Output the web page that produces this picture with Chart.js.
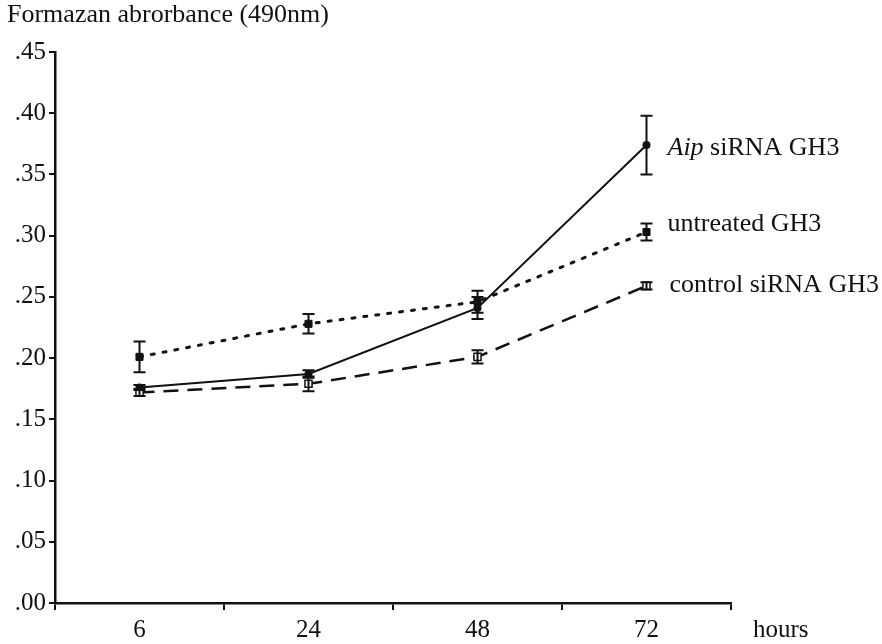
<!DOCTYPE html>
<html>
<head>
<meta charset="utf-8">
<script src="https://cdn.jsdelivr.net/npm/chart.js@4.4.1/dist/chart.umd.min.js"></script>
<style>
  html, body { margin: 0; padding: 0; background: #fff; }
  #wrap { width: 882px; height: 644px; position: relative; }
</style>
</head>
<body>
<div id="wrap"><canvas id="chart"></canvas></div>
<script>
/* 数値は図から読み取り */
const hours = ['6', '24', '48', '72'];

const aipMean = [0.176, 0.187, 0.241, 0.374];
const aipErr = [0.002, 0.003, 0.009, 0.024];

const untreatedMean = [0.201, 0.228, 0.246, 0.303];
const untreatedErr = [0.0125, 0.008, 0.009, 0.007];

const controlMean = [0.172, 0.179, 0.201, 0.259];
const controlErr = [0.003, 0.006, 0.0055, 0.003];

const yTicks = [0, 0.05, 0.10, 0.15, 0.20, 0.25, 0.30, 0.35, 0.40, 0.45];

const FONT = '"Liberation Serif", "Times New Roman", serif';
const INK = '#111';

// エラーバー（スケール経由で描画）
const errorBars = {
  id: 'errorBars',
  afterDatasetsDraw(chart) {
    const { ctx, scales: { x, y } } = chart;
    ctx.save();
    ctx.strokeStyle = INK;
    ctx.lineWidth = 2;
    ctx.setLineDash([]);
    chart.data.datasets.forEach(ds => {
      ds.data.forEach((v, i) => {
        const px = x.getPixelForValue(i);
        const top = y.getPixelForValue(v + ds.err[i]);
        const bot = y.getPixelForValue(v - ds.err[i]);
        ctx.beginPath();
        ctx.moveTo(px, top); ctx.lineTo(px, bot);
        ctx.moveTo(px - 6, top); ctx.lineTo(px + 6, top);
        ctx.moveTo(px - 6, bot); ctx.lineTo(px + 6, bot);
        ctx.stroke();
      });
    });
    ctx.restore();
  },
};

// タイトル・系列ラベル・"hours"
const texts = {
  id: 'texts',
  afterDraw(chart) {
    const { ctx, scales: { x, y } } = chart;
    ctx.save();
    ctx.fillStyle = INK;
    ctx.textBaseline = 'alphabetic';
    ctx.textAlign = 'left';
    ctx.font = '26px ' + FONT;
    ctx.fillText('Formazan abrorbance (490nm)', 7, 22);
    ctx.font = '25px ' + FONT;
    ctx.fillText('hours', 753, 637);

    const last = hours.length - 1;
    const lx = x.getPixelForValue(last) + 21;
    // Aip はイタリック
    let ly = y.getPixelForValue(aipMean[last]) + 10;
    ctx.font = 'italic 26px ' + FONT;
    ctx.fillText('Aip', lx, ly);
    const w = ctx.measureText('Aip ').width;
    ctx.font = '26px ' + FONT;
    ctx.fillText('siRNA GH3', lx + w, ly);

    ly = y.getPixelForValue(untreatedMean[last]) - 1;
    ctx.fillText('untreated GH3', lx, ly);

    ly = y.getPixelForValue(controlMean[last]) + 6;
    ctx.fillText('control siRNA GH3', lx + 2, ly);
    ctx.restore();
  },
};

new Chart(document.getElementById('chart'), {
  type: 'line',
  data: {
    labels: hours,
    datasets: [
      {
        label: 'control siRNA GH3', data: controlMean, err: controlErr,
        borderColor: INK, borderWidth: 2.5, borderDash: [15, 9],
        pointStyle: 'rect', pointRadius: 5, pointBackgroundColor: '#fff',
        pointBorderColor: INK, pointBorderWidth: 1.5, tension: 0,
      },
      {
        label: 'untreated GH3', data: untreatedMean, err: untreatedErr,
        borderColor: INK, borderWidth: 3, borderDash: [3, 9], borderCapStyle: 'round',
        pointStyle: 'rect', pointRadius: 5, pointBackgroundColor: INK,
        pointBorderColor: INK, pointBorderWidth: 1, tension: 0,
      },
      {
        label: 'Aip siRNA GH3', data: aipMean, err: aipErr,
        borderColor: INK, borderWidth: 2,
        pointStyle: 'circle', pointRadius: 3, pointBackgroundColor: INK,
        pointBorderColor: INK, tension: 0,
      },
    ],
  },
  options: {
    responsive: true,
    maintainAspectRatio: false,
    animation: false,
    layout: { padding: { top: 52, right: 151, left: 0, bottom: 0 } },
    plugins: { legend: { display: false }, tooltip: { enabled: false } },
    scales: {
      x: {
        offset: true,
        grid: { offset: true, drawOnChartArea: false, color: INK, tickLength: 7, lineWidth: 2 },
        border: { color: INK, width: 2.5 },
        ticks: { color: INK, font: { family: FONT, size: 25 }, padding: 5 },
        afterFit(s) { s.height = 41; },
      },
      y: {
        min: 0, max: 0.45,
        afterBuildTicks(s) { s.ticks = yTicks.map(v => ({ value: v })); },
        grid: { drawOnChartArea: false, color: INK, tickLength: 6, lineWidth: 2 },
        border: { color: INK, width: 2.5 },
        ticks: {
          color: INK, font: { family: FONT, size: 25 }, padding: 3,
          callback: v => v.toFixed(2).replace(/^0/, ''),
        },
        afterFit(s) { s.width = 55; },
      },
    },
  },
  plugins: [errorBars, texts],
});
</script>
</body>
</html>
